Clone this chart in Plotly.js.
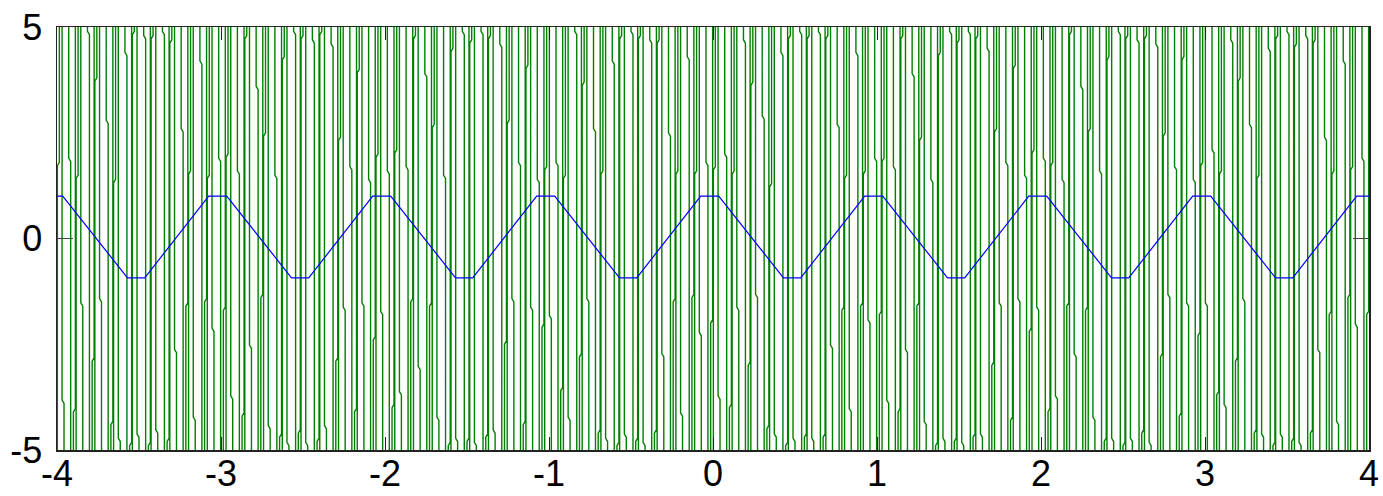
<!DOCTYPE html>
<html>
<head>
<meta charset="utf-8">
<script src="https://cdn.plot.ly/plotly-3.0.1.min.js"></script>
<style>html,body{margin:0;padding:0;background:#fff;}#chart{width:1383px;height:496px;}</style>
</head>
<body>
<div id="chart"></div>
<script>
// ---- data ----
var xTicks = [-4, -3, -2, -1, 0, 1, 2, 3, 4];
var yTicks = [-5, 0, 5];

// blue trace: vertices of the clipped wave
var blueX = [-4, -3.965, -3.57, -3.465, -3.075, -2.965, -2.57, -2.465, -2.075, -1.965, -1.57, -1.465, -1.075, -0.965, -0.57, -0.465, -0.075, 0.035, 0.43, 0.535, 0.925, 1.035, 1.43, 1.535, 1.925, 2.035, 2.43, 2.535, 2.925, 3.035, 3.43, 3.535, 3.925, 4];
var blueY = [1, 1, -0.93, -0.93, 1, 1, -0.93, -0.93, 1, 1, -0.93, -0.93, 1, 1, -0.93, -0.93, 1, 1, -0.93, -0.93, 1, 1, -0.93, -0.93, 1, 1, -0.93, -0.93, 1, 1, -0.93, -0.93, 1, 1];

// green trace: the in-range value of each fast swing (the kink), from left to right
var greenKink = [
 1.8,-3.9,1.9,-4.1,1.5,-1.6,4.9,-2.9,3.8,-1.5,2.8,-4.4,1.4,-4.8,4.4,-4.9,4.9,-4.7,4.8,-4.9,4.8,-4.6,4.9,-4.8,4.7,-2.7,2.6,-1.6,1.6,-4.3,4.2,-1.5,1.5,-2.2,1.9,
 -1.7,2.0,-3.8,1.6,-4.2,4.8,-2.6,3.6,-1.4,2.5,-4.5,1.5,-4.7,4.3,-4.9,4.9,-4.6,4.8,-4.9,4.7,-4.8,4.9,-4.5,4.6,-2.9,2.4,-1.7,1.7,-4.1,4.0,-1.6,1.4,-2.4,2.0,-1.8,
 1.6,-4.0,2.1,-3.7,1.7,-1.5,4.8,-3.1,3.9,-1.6,2.7,-4.3,1.5,-4.9,4.5,-4.8,4.9,-4.8,4.7,-4.9,4.9,-4.7,4.8,-4.6,4.6,-2.5,2.8,-1.5,1.8,-4.4,4.1,-1.7,1.4,-2.1,1.7,
 -1.9,1.8,-3.6,1.5,-4.3,4.9,-2.8,3.7,-1.5,2.6,-4.6,1.6,-4.8,4.2,-4.9,4.8,-4.7,4.9,-4.8,4.8,-4.9,4.7,-4.6,4.7,-2.8,2.5,-1.5,1.6,-4.2,4.3,-1.4,1.6,-2.3,1.8,-2.0,
 1.7,-3.8,2.0,-4.0,1.6,-1.7,4.7,-3.0,3.7,-1.4,2.9,-4.5,1.3,-4.7,4.4,-4.9,4.8,-4.8,4.9,-4.7,4.8,-4.8,4.9,-4.7,4.8,-2.6,2.7,-1.7,1.5,-4.1,4.4,-1.6,1.6,-2.0,1.9,
 -1.8,1.9,-3.9,1.7,-4.1,4.8,-2.7,3.9,-1.6,2.4,-4.4,1.4,-4.9,4.4,-4.8,4.9,-4.8,4.7,-4.9,4.9,-4.7,4.8,-4.7,4.5,-3.0,2.6,-1.6,1.8,-4.3,4.1,-1.5,1.5,-2.2,2.1,-1.7,
 1.9,-4.1,1.8,-3.8,1.4,-1.6,4.9,-2.8,3.6,-1.7,2.6,-4.3,1.6,-4.8,4.3,-4.8,4.9,-4.9,4.8,-4.8,4.7,-4.6,4.8,-4.9,4.6,-2.8,2.5,-1.4,1.7,-4.2,4.3,-1.6,1.4,-2.3,1.8,
 -1.6,2.1,-3.7,1.6,-4.0,4.7,-2.9,3.8,-1.5,2.7,-4.6,1.5,-4.7,4.5,-4.9,4.8,-4.7,4.9,-4.8,4.6,-4.9,4.8,-4.6,4.7,-2.7,2.4,-1.8,1.6,-4.4,4.2,-1.4,1.7,-2.1,1.9,-1.8
];
var greenPeak = 6.5; // swing amplitude (beyond the visible range)
var xStart = -4, xEnd = 4;

// ---- build the green polyline (each swing runs from one extreme to the other) ----
var gx = [], gy = [];
var n = greenKink.length;
var step = (xEnd - xStart) / n;
for (var i = 0; i < n; i++) {
  var xs = xStart + (i + 0.5) * step;
  var down = (i % 2 === 0);
  var from = down ? greenPeak : -greenPeak;
  var to = down ? -greenPeak : greenPeak;
  var k = greenKink[i];
  var shift = ((i % 4) < 2 ? -1 : 1) * 0.012;
  var dy = down ? -0.08 : 0.08;
  gx.push(xs, xs, xs + shift, xs + shift);
  gy.push(from, k, k + dy, to);
}

var traces = [
  {x: gx, y: gy, type: 'scatter', mode: 'lines',
   line: {color: '#008000', width: 1.4, simplify: false}, hoverinfo: 'skip', showlegend: false},
  {x: blueX, y: blueY, type: 'scatter', mode: 'lines',
   line: {color: '#0000ff', width: 1.2, simplify: false}, hoverinfo: 'skip', showlegend: false}
];

var axisFont = {family: 'Liberation Sans, Arial, Helvetica, sans-serif', size: 36, color: '#000'};
var layout = {
  width: 1383, height: 496,
  margin: {l: 57, r: 14, t: 27, b: 46, pad: 0},
  paper_bgcolor: '#fff', plot_bgcolor: '#fff',
  showlegend: false,
  xaxis: {range: [xStart, xEnd], tickmode: 'array', tickvals: xTicks, ticktext: xTicks.map(String),
    ticks: 'inside', ticklen: 13, tickwidth: 1, tickcolor: '#222', mirror: 'ticks',
    showline: true, linecolor: '#222', linewidth: 1.5, showgrid: false, zeroline: false,
    tickfont: axisFont, ticklabelstandoff: -9, fixedrange: true},
  yaxis: {range: [-5, 5], tickmode: 'array', tickvals: yTicks, ticktext: yTicks.map(String),
    ticks: 'inside', ticklen: 16, tickwidth: 1, tickcolor: '#444', mirror: 'ticks',
    showline: true, linecolor: '#222', linewidth: 1.5, showgrid: false, zeroline: false,
    tickfont: axisFont, ticklabelstandoff: 6, fixedrange: true}
};
Plotly.newPlot('chart', traces, layout, {staticPlot: true, displayModeBar: false});
</script>
</body>
</html>
